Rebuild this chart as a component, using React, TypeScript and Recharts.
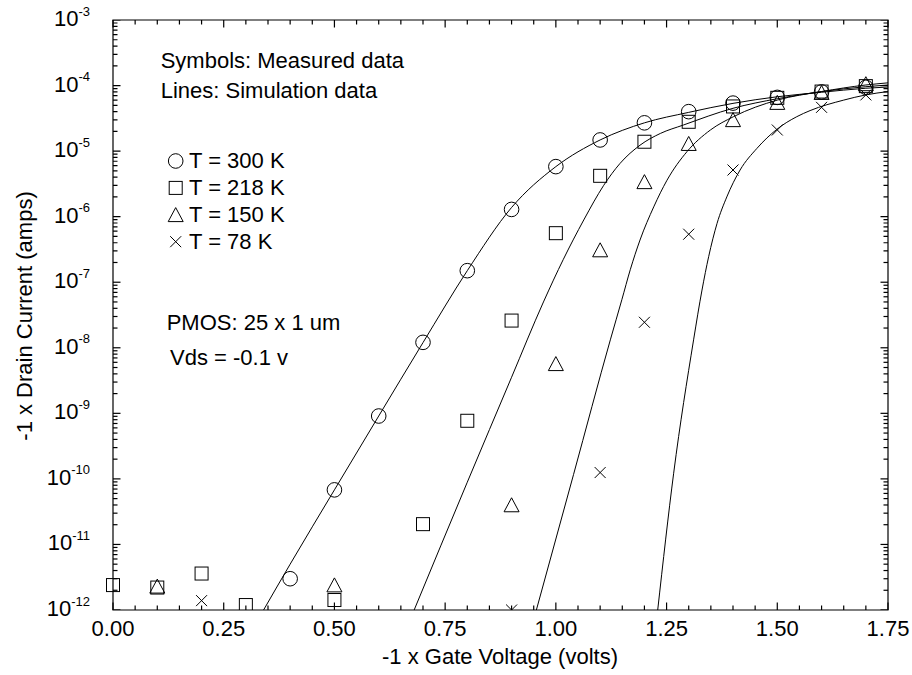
import React from 'react';
import { ComposedChart, Line, Scatter, XAxis, YAxis, ReferenceArea } from 'recharts';

const FONT = '"Liberation Sans", Arial, Helvetica, sans-serif';

// ---- Measured data (symbols) ----
const v300 = [0.4, 0.5, 0.6, 0.7, 0.8, 0.9, 1.0, 1.1, 1.2, 1.3, 1.4, 1.5, 1.6, 1.7];
const i300 = [3.0e-12, 6.8e-11, 9.1e-10, 1.21e-8, 1.5e-7, 1.29e-6, 5.8e-6, 1.48e-5, 2.7e-5, 4.0e-5, 5.4e-5, 6.6e-5, 8.0e-5, 9.4e-5];

const v218 = [0.0, 0.1, 0.2, 0.3, 0.5, 0.7, 0.8, 0.9, 1.0, 1.1, 1.2, 1.3, 1.4, 1.5, 1.6, 1.7];
const i218 = [2.4e-12, 2.2e-12, 3.6e-12, 1.19e-12, 1.42e-12, 2.04e-11, 7.7e-10, 2.6e-8, 5.6e-7, 4.2e-6, 1.39e-5, 2.8e-5, 4.8e-5, 6.5e-5, 8.1e-5, 9.8e-5];

const v150 = [0.1, 0.5, 0.9, 1.0, 1.1, 1.2, 1.3, 1.4, 1.5, 1.6, 1.7];
const i150 = [2.3e-12, 2.4e-12, 4.0e-11, 5.7e-9, 3.1e-7, 3.4e-6, 1.3e-5, 3.0e-5, 5.5e-5, 7.8e-5, 1.06e-4];

const v78 = [0.2, 0.9, 1.1, 1.2, 1.3, 1.4, 1.5, 1.6, 1.7];
const i78 = [1.39e-12, 1.0e-12, 1.25e-10, 2.45e-8, 5.4e-7, 5.15e-6, 2.1e-5, 4.65e-5, 7.2e-5];

// ---- Simulation data (lines) ----
const simV300 = [0.34, 0.4, 0.5, 0.6, 0.7, 0.8, 0.9, 1.0, 1.1, 1.2, 1.3, 1.4, 1.5, 1.6, 1.7, 1.75];
const simI300 = [1.0e-12, 5.0e-12, 6.8e-11, 9.1e-10, 1.2e-8, 1.5e-7, 1.38e-6, 5.8e-6, 1.48e-5, 2.7e-5, 3.9e-5, 5.35e-5, 6.75e-5, 7.9e-5, 9.1e-5, 9.5e-5];

const simV218 = [0.68, 0.8, 0.9, 0.972, 1.017, 1.063, 1.108, 1.145, 1.19, 1.236, 1.288, 1.4, 1.5, 1.6, 1.7, 1.75];
const simI218 = [1.0e-12, 8.9e-11, 3.55e-9, 5.0e-8, 2.24e-7, 8.9e-7, 3.0e-6, 6.5e-6, 1.23e-5, 1.86e-5, 2.5e-5, 4.5e-5, 6.3e-5, 8.1e-5, 9.6e-5, 1.02e-4];

const simV150 = [0.956, 1.04, 1.123, 1.149, 1.168, 1.19, 1.221, 1.251, 1.296, 1.349, 1.401, 1.5, 1.6, 1.7, 1.75];
const simI150 = [1.0e-12, 1.17e-10, 1.32e-8, 5.4e-8, 1.55e-7, 4.4e-7, 1.41e-6, 3.6e-6, 9.8e-6, 2.1e-5, 3.35e-5, 6.0e-5, 8.1e-5, 1.02e-4, 1.1e-4];

const simV78 = [1.23, 1.266, 1.311, 1.33, 1.345, 1.364, 1.386, 1.416, 1.454, 1.499, 1.544, 1.574, 1.65, 1.7, 1.75];
const simI78 = [1.0e-12, 1.22e-10, 1.32e-8, 7.6e-8, 2.45e-7, 7.9e-7, 2.0e-6, 5.15e-6, 1.1e-5, 2.15e-5, 3.35e-5, 4.15e-5, 6.0e-5, 7.2e-5, 8.1e-5];

// ---- Axes ----
const xMajorTicks = [0, 0.25, 0.5, 0.75, 1.0, 1.25, 1.5, 1.75];
const xTickLabels = ['0.00', '0.25', '0.50', '0.75', '1.00', '1.25', '1.50', '1.75'];
const xMinorStep = 0.05;
const yDecades = [-12, -11, -10, -9, -8, -7, -6, -5, -4, -3];
const yMultipliers = [1, 2, 3, 4, 5, 6, 7, 8, 9];
const xDomain = [0, 1.75];
const yDomain = [1e-12, 1e-3];

const legendLabels = ['T = 300 K', 'T = 218 K', 'T = 150 K', 'T = 78 K'];

const zip = (xs: number[], ys: number[]) => xs.map((x, i) => ({ x, y: ys[i] }));

const xTicks: number[] = [];
for (let k = 0; k <= Math.round(xDomain[1] / xMinorStep); k++) xTicks.push(Math.round(k * xMinorStep * 100) / 100);
const yTicks: number[] = [];
yDecades.forEach((e) => yMultipliers.forEach((m) => { const v = m * Math.pow(10, e); if (v <= yDomain[1] * 1.0001) yTicks.push(v); }));
const yMajorTicks = yDecades.map((e) => Math.pow(10, e));

const majorIndexX = (v: number) => xMajorTicks.findIndex((t) => Math.abs(t - v) < 1e-9);
const isMajorY = (v: number) => { const e = Math.log10(v); return Math.abs(e - Math.round(e)) < 1e-6; };

// tick-mark anchor points on the four sides of the frame
const bottomTickPts = xTicks.map((v) => ({ x: v, y: yDomain[0], major: majorIndexX(v) >= 0 }));
const topTickPts = xTicks.map((v) => ({ x: v, y: yDomain[1], major: majorIndexX(v) >= 0 }));
const leftTickPts = yTicks.map((v) => ({ x: xDomain[0], y: v, major: isMajorY(v) }));
const rightTickPts = yTicks.map((v) => ({ x: xDomain[1], y: v, major: isMajorY(v) }));

type Dir = 'up' | 'down' | 'right' | 'left';
const tickShape = (dir: Dir) => (p: any) => {
  const cx = Number(p.cx);
  const cy = Number(p.cy);
  const d = p.payload ?? p.node ?? {};
  const major = !!d.major;
  const len = dir === 'up' || dir === 'down' ? (major ? 7.5 : 4.5) : major ? 7.5 : 4.5;
  let x1 = cx, y1 = cy, x2 = cx, y2 = cy;
  if (dir === 'up') { y2 = cy - len; }
  if (dir === 'down') { y2 = cy + len; }
  if (dir === 'right') { x2 = cx + len; }
  if (dir === 'left') { x2 = cx - len; }
  return <line x1={x1} y1={y1} x2={x2} y2={y2} stroke="#000" strokeWidth={1.2} />;
};

// Axis labels
const renderBottomLabel = (props: any) => {
  const x = Number(props.x);
  const y = Number(props.y);
  const idx = majorIndexX(props.payload.value);
  if (idx < 0) return <g />;
  return (
    <text x={x} y={y + 26} textAnchor="middle" fontFamily={FONT} fontSize={22} fill="#000">
      {xTickLabels[idx]}
    </text>
  );
};

const renderLeftLabel = (props: any) => {
  const x = Number(props.x);
  const y = Number(props.y);
  const v = props.payload.value;
  const e = Math.round(Math.log10(v));
  return (
    <text x={x - 23} y={y + 6} textAnchor="end" fontFamily={FONT} fontSize={22} fill="#000">
      <tspan>10</tspan>
      <tspan dy={-10.5} fontSize={13}>{String(e)}</tspan>
    </text>
  );
};

// ---- Marker shapes ----
const CircleMark = ({ cx, cy }: any) => <circle cx={cx} cy={cy} r={7.3} fill="none" stroke="#000" strokeWidth={1} />;
const SquareMark = ({ cx, cy }: any) => <rect x={cx - 6.5} y={cy - 6.5} width={13} height={13} fill="none" stroke="#000" strokeWidth={1} />;
const TriangleMark = ({ cx, cy }: any) => (
  <polygon points={`${cx},${cy - 7.2} ${cx - 7.5},${cy + 6.8} ${cx + 7.5},${cy + 6.8}`} fill="none" stroke="#000" strokeWidth={1} />
);
const CrossMark = ({ cx, cy }: any) => (
  <g stroke="#000" strokeWidth={1}>
    <line x1={cx - 5.5} y1={cy - 5.5} x2={cx + 5.5} y2={cy + 5.5} />
    <line x1={cx - 5.5} y1={cy + 5.5} x2={cx + 5.5} y2={cy - 5.5} />
  </g>
);

const markers = [CircleMark, SquareMark, TriangleMark, CrossMark];

const measured = [zip(v300, i300), zip(v218, i218), zip(v150, i150), zip(v78, i78)];
const simulated = [zip(simV300, simI300), zip(simV218, simI218), zip(simV150, simI150), zip(simV78, simI78)];

const tickSets: { data: any[]; dir: Dir }[] = [
  { data: bottomTickPts, dir: 'up' },
  { data: topTickPts, dir: 'down' },
  { data: leftTickPts, dir: 'right' },
  { data: rightTickPts, dir: 'left' },
];

export default function App() {
  return (
    <div style={{ position: 'absolute', left: 0, top: 0, width: 912, height: 675, background: '#fff' }}>
      <ComposedChart width={912} height={675} margin={{ top: 20, right: 24, bottom: 0, left: 0 }}>
        <XAxis
          xAxisId="bottom"
          dataKey="x"
          type="number"
          domain={xDomain}
          ticks={xMajorTicks}
          interval={0}
          height={65}
          tickSize={0}
          tickMargin={0}
          tickLine={false}
          axisLine={false}
          tick={renderBottomLabel}
        />
        <YAxis
          yAxisId="left"
          dataKey="y"
          type="number"
          scale="log"
          domain={yDomain}
          ticks={yMajorTicks}
          interval={0}
          allowDataOverflow
          width={113}
          tickSize={0}
          tickMargin={0}
          tickLine={false}
          axisLine={false}
          tick={renderLeftLabel}
        />
        <ReferenceArea
          xAxisId="bottom"
          yAxisId="left"
          x1={xDomain[0]}
          x2={xDomain[1]}
          y1={yDomain[0]}
          y2={yDomain[1]}
          fill="none"
          fillOpacity={0}
          stroke="#000"
          strokeWidth={1.2}
          ifOverflow="visible"
        />
        {tickSets.map((t) => (
          <Scatter
            key={`ticks-${t.dir}`}
            xAxisId="bottom"
            yAxisId="left"
            data={t.data}
            dataKey="y"
            shape={tickShape(t.dir)}
            isAnimationActive={false}
          />
        ))}
        {simulated.map((d, i) => (
          <Line
            key={`sim${i}`}
            xAxisId="bottom"
            yAxisId="left"
            data={d}
            dataKey="y"
            type="monotone"
            stroke="#000"
            strokeWidth={1}
            dot={false}
            activeDot={false}
            isAnimationActive={false}
          />
        ))}
        {measured.map((d, i) => {
          const M = markers[i];
          return (
            <Scatter
              key={`meas${i}`}
              xAxisId="bottom"
              yAxisId="left"
              data={d}
              dataKey="y"
              shape={(p: any) => <M cx={p.cx} cy={p.cy} />}
              isAnimationActive={false}
            />
          );
        })}
      </ComposedChart>
      <svg width={912} height={675} style={{ position: 'absolute', left: 0, top: 0, pointerEvents: 'none' }}>
        <g fontFamily={FONT} fontSize={22} fill="#000">
          <text x={160.7} y={67.7}>Symbols: Measured data</text>
          <text x={160.7} y={98.3}>Lines: Simulation data</text>
          {legendLabels.map((lab, i) => {
            const M = markers[i];
            const cy = 161 + i * 26.9;
            return (
              <g key={lab}>
                <M cx={175.7} cy={cy} />
                <text x={189} y={cy + 7.3}>{lab}</text>
              </g>
            );
          })}
          <text x={166.7} y={330}>PMOS: 25 x 1 um</text>
          <text x={170} y={365}>Vds = -0.1 v</text>
          <text x={500} y={664} textAnchor="middle">-1 x Gate Voltage (volts)</text>
          <text x={31.7} y={316} textAnchor="middle" transform="rotate(-90, 31.7, 316)">-1 x Drain Current (amps)</text>
        </g>
      </svg>
    </div>
  );
}
